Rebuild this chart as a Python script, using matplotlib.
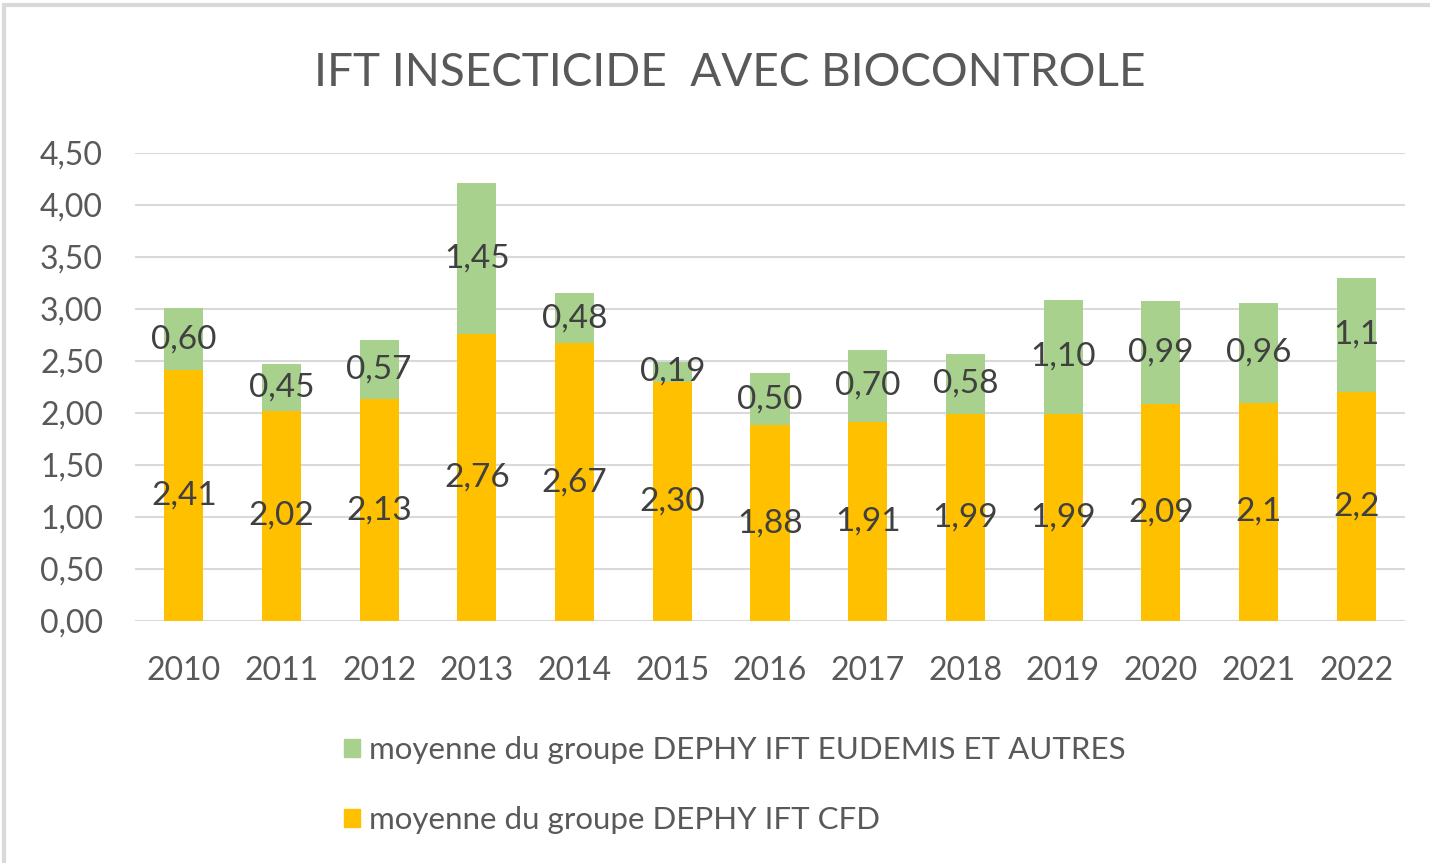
import matplotlib.pyplot as plt
from matplotlib.patches import Patch, Rectangle

plt.rcParams['font.family'] = ['Lato', 'DejaVu Sans']

# data
years = ['2010', '2011', '2012', '2013', '2014', '2015', '2016',
         '2017', '2018', '2019', '2020', '2021', '2022']
cfd = [2.41, 2.02, 2.13, 2.76, 2.67, 2.30, 1.88, 1.91, 1.99, 1.99, 2.09, 2.1, 2.2]
eudemis = [0.60, 0.45, 0.57, 1.45, 0.48, 0.19, 0.50, 0.70, 0.58, 1.10, 0.99, 0.96, 1.1]
cfd_labels = ['2,41', '2,02', '2,13', '2,76', '2,67', '2,30', '1,88',
              '1,91', '1,99', '1,99', '2,09', '2,1', '2,2']
eud_labels = ['0,60', '0,45', '0,57', '1,45', '0,48', '0,19', '0,50',
              '0,70', '0,58', '1,10', '0,99', '0,96', '1,1']
yticks = [0, 0.5, 1, 1.5, 2, 2.5, 3, 3.5, 4, 4.5]
ytick_labels = ['0,00', '0,50', '1,00', '1,50', '2,00', '2,50',
                '3,00', '3,50', '4,00', '4,50']

orange = '#FFC000'
green = '#A9D18E'
grey_txt = '#595959'
lab_txt = '#404040'

fig = plt.figure(figsize=(14.3, 8.63), dpi=100)
ax = fig.add_axes([0.0944, 0.2804, 0.8881, 0.5423])

x = range(len(years))
b1 = ax.bar(x, cfd, width=0.4, color=orange, zorder=2)
b2 = ax.bar(x, eudemis, width=0.4, bottom=cfd, color=green, zorder=2)

for i in x:
    ax.text(i, cfd[i] / 2, cfd_labels[i], ha='center', va='center',
            fontsize=24, color=lab_txt, zorder=3)
    ax.text(i, cfd[i] + eudemis[i] / 2, eud_labels[i], ha='center', va='center',
            fontsize=24, color=lab_txt, zorder=3)

ax.set_xlim(-0.5, len(years) - 0.5)
ax.set_ylim(0, 4.5)
ax.set_yticks(yticks)
ax.set_yticklabels(ytick_labels)
ax.set_xticks(list(x))
ax.set_xticklabels(years)
ax.tick_params(axis='both', length=0, labelsize=23, labelcolor=grey_txt)
ax.tick_params(axis='y', pad=23)
ax.tick_params(axis='x', pad=25)
ax.grid(axis='y', color='#D9D9D9', linewidth=1.5, zorder=0)
for s in ax.spines.values():
    s.set_visible(False)

fig.text(0.5105, 0.915, 'IFT INSECTICIDE  AVEC BIOCONTROLE', ha='center', va='center',
         fontsize=33, color=grey_txt)

handles = [Patch(color=green), Patch(color=orange)]
labels = ['moyenne du groupe DEPHY IFT EUDEMIS ET AUTRES',
          'moyenne du groupe DEPHY IFT CFD']
fig.legend(handles, labels, loc='upper left', bbox_to_anchor=(0.221, 0.18),
           frameon=False, fontsize=22.5, labelcolor=grey_txt, handlelength=0.5,
           handleheight=0.5, handletextpad=0.3, labelspacing=1.35)

# chart border
fig.patches.append(Rectangle((0.003, -0.05), 1.2, 1.044, transform=fig.transFigure,
                             fill=False, edgecolor='#D9D9D9', linewidth=3))

fig.savefig('out.png', dpi=100)
